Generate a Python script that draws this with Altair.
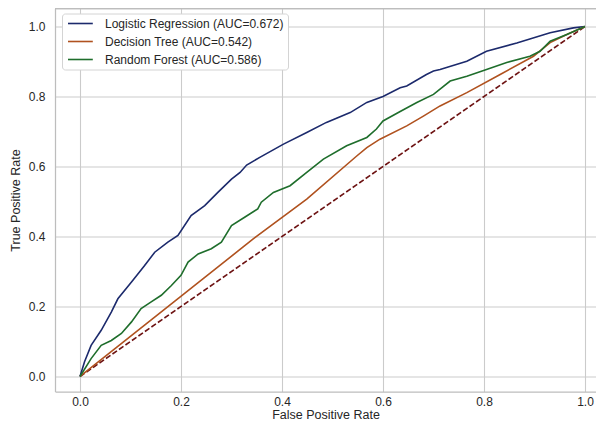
import altair as alt
import pandas as pd

# ---- data ----
lr_fpr = [0.0, 0.009, 0.022, 0.042, 0.062, 0.075, 0.102, 0.128, 0.148, 0.174, 0.194, 0.22, 0.247,
          0.273, 0.30, 0.317, 0.33, 0.356, 0.403, 0.449, 0.488, 0.535, 0.568, 0.60, 0.634, 0.647,
          0.686, 0.70, 0.713, 0.766, 0.805, 0.865, 0.931, 0.977, 1.0]
lr_tpr = [0.0, 0.042, 0.089, 0.132, 0.184, 0.222, 0.27, 0.317, 0.355, 0.384, 0.403, 0.46, 0.488,
          0.526, 0.564, 0.583, 0.604, 0.626, 0.664, 0.697, 0.726, 0.754, 0.783, 0.80, 0.825, 0.83,
          0.863, 0.873, 0.877, 0.901, 0.929, 0.953, 0.982, 0.996, 1.0]

dt_fpr = [0.0, 0.343, 0.449, 0.548, 0.568, 0.594, 0.647, 0.68, 0.713, 0.766, 0.832, 0.898, 0.931, 0.964, 1.0]
dt_tpr = [0.0, 0.393, 0.507, 0.630, 0.654, 0.678, 0.716, 0.744, 0.773, 0.811, 0.863, 0.915, 0.954, 0.977, 1.0]

rf_fpr = [0.0, 0.022, 0.042, 0.062, 0.082, 0.102, 0.121, 0.141, 0.161, 0.181, 0.20, 0.214, 0.234,
          0.26, 0.28, 0.30, 0.326, 0.352, 0.359, 0.383, 0.416, 0.449, 0.482, 0.528, 0.568, 0.587,
          0.60, 0.634, 0.667, 0.70, 0.733, 0.766, 0.805, 0.845, 0.891, 0.911, 0.931, 0.964, 1.0]
rf_tpr = [0.0, 0.051, 0.089, 0.103, 0.123, 0.156, 0.194, 0.213, 0.232, 0.26, 0.289, 0.327, 0.35,
          0.365, 0.384, 0.431, 0.455, 0.479, 0.498, 0.526, 0.545, 0.583, 0.621, 0.659, 0.683, 0.707,
          0.73, 0.757, 0.783, 0.806, 0.844, 0.858, 0.877, 0.897, 0.915, 0.929, 0.958, 0.977, 1.0]

model_names = ["Logistic Regression (AUC=0.672)", "Decision Tree (AUC=0.542)", "Random Forest (AUC=0.586)"]
model_colors = ["#1c2a6c", "#b0521f", "#1f6e2c"]
diag_x = [0.0, 1.0]
diag_y = [0.0, 1.0]
x_ticks = [0.0, 0.2, 0.4, 0.6, 0.8, 1.0]
y_ticks = [0.0, 0.2, 0.4, 0.6, 0.8, 1.0]

rows = []
for name, xs, ys in zip(model_names, [lr_fpr, dt_fpr, rf_fpr], [lr_tpr, dt_tpr, rf_tpr]):
    for i, (a, b) in enumerate(zip(xs, ys)):
        rows.append({"model": name, "fpr": a, "tpr": b, "idx": i})
df = pd.DataFrame(rows)
diag = pd.DataFrame({"fpr": diag_x, "tpr": diag_y})

FONT = "Liberation Sans"
W, H = 541, 383
FRAME = "#bdbdbd"
xscale = alt.Scale(domain=[-0.0495, 1.0218], nice=False, zero=False)
yscale = alt.Scale(domain=[-0.0429, 1.0514], nice=False, zero=False)

xaxis = alt.Axis(values=x_ticks, format=".1f", title="False Positive Rate", labelPadding=5, titlePadding=1)
yaxis = alt.Axis(values=y_ticks, format=".1f", title="True Positive Rate", labelPadding=10, titlePadding=6)

curves = alt.Chart(df).mark_line(strokeWidth=1.6, clip=True).encode(
    x=alt.X("fpr:Q", scale=xscale, axis=xaxis),
    y=alt.Y("tpr:Q", scale=yscale, axis=yaxis),
    order="idx:Q",
    color=alt.Color("model:N", scale=alt.Scale(domain=model_names, range=model_colors),
                    legend=alt.Legend(title=None, orient="none", legendX=7, legendY=5,
                                      symbolType="M-1,0H5.2", symbolSize=64, symbolStrokeWidth=1.6,
                                      labelOffset=27, rowPadding=6, padding=4, labelLimit=400,
                                      fillColor="white", strokeColor="#d4d4d4", cornerRadius=3,
                                      labelFontSize=12, labelFont=FONT, labelColor="#262626")),
)

diagonal = alt.Chart(diag).mark_line(strokeWidth=1.6, strokeDash=[5.5, 2.4], color="#6e1414").encode(
    x=alt.X("fpr:Q", scale=xscale),
    y=alt.Y("tpr:Q", scale=yscale),
)

top_border = alt.Chart(diag).mark_rule(color=FRAME, strokeWidth=1.25).encode(
    x=alt.value(0), x2=alt.value(W), y=alt.value(0)
)

chart = alt.layer(diagonal, curves, top_border).properties(
    width=W, height=H,
    autosize=alt.AutoSizeParams(type="none"),
    padding={"left": 47, "top": 0.5, "right": 0, "bottom": 33.5},
    background="white",
).configure_view(
    strokeWidth=0
).configure_axis(
    grid=True, gridColor="#cbcbcb", gridWidth=1.1, ticks=False,
    domain=True, domainColor=FRAME, domainWidth=1.25,
    labelFont=FONT, labelFontSize=12, labelColor="#262626",
    titleFont=FONT, titleFontSize=12.5, titleFontWeight="normal", titleColor="#262626",
)

chart.save("out.html", embed_options={"renderer": "svg", "actions": False})
